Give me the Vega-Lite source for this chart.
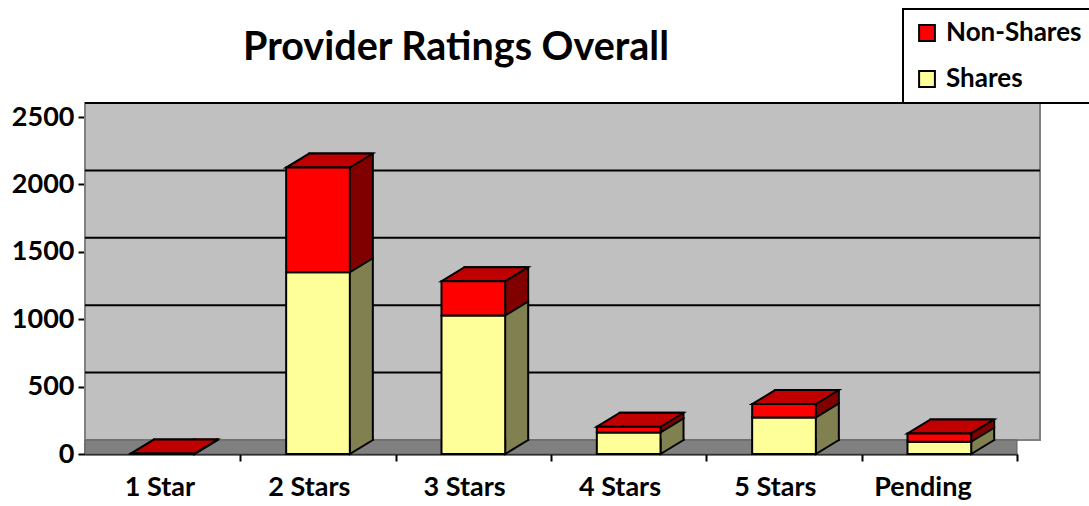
{
  "$schema": "https://vega.github.io/schema/vega-lite/v6.json",
  "width": 932,
  "height": 337,
  "autosize": "none",
  "padding": {"left": 85, "top": 117, "right": 72, "bottom": 52},
  "background": "white",
  "title": {
    "text": "Provider Ratings Overall",
    "font": "Lato",
    "fontSize": 39.5,
    "fontWeight": "bold",
    "color": "black",
    "anchor": "start",
    "frame": "group",
    "dx": 158,
    "offset": 0,
    "dy": 60
  },
  "config": {
    "view": {"stroke": null},
    "legend": {"strokeWidth": 2},
    "axis": {
      "labelFont": "Lato",
      "labelFontSize": 27,
      "labelFontWeight": "bold",
      "labelColor": "black",
      "domainColor": "black",
      "domainWidth": 2,
      "tickColor": "black",
      "tickWidth": 2,
      "tickSize": 7,
      "grid": false,
      "title": null
    }
  },
  "datasets": {
    "ratings": [
      {"rating": "1 Star", "type": "Shares", "count": 0},
      {"rating": "1 Star", "type": "Non-Shares", "count": 3},
      {"rating": "2 Stars", "type": "Shares", "count": 1348},
      {"rating": "2 Stars", "type": "Non-Shares", "count": 777},
      {"rating": "3 Stars", "type": "Shares", "count": 1027},
      {"rating": "3 Stars", "type": "Non-Shares", "count": 255},
      {"rating": "4 Stars", "type": "Shares", "count": 160},
      {"rating": "4 Stars", "type": "Non-Shares", "count": 42},
      {"rating": "5 Stars", "type": "Shares", "count": 271},
      {"rating": "5 Stars", "type": "Non-Shares", "count": 99},
      {"rating": "Pending", "type": "Shares", "count": 91},
      {"rating": "Pending", "type": "Non-Shares", "count": 62}
    ],
    "gridvals": [{"v": 500}, {"v": 1000}, {"v": 1500}, {"v": 2000}, {"v": 2500}],
    "frame": [{"lo": 0, "hi": 2500}]
  },
  "layer": [
    {
      "data": {"name": "frame"},
      "mark": {"type": "rect", "fill": "#C0C0C0"},
      "encoding": {
        "y": {"field": "lo", "type": "quantitative", "scale": {"domain": [0, 2500], "nice": false}},
        "y2": {"field": "hi"}
      }
    },
    {
      "data": {"name": "frame"},
      "mark": {"type": "rect", "fill": "#C0C0C0", "stroke": "#808080", "strokeWidth": 2,
               "xOffset": 23, "x2Offset": 23, "yOffset": -14, "y2Offset": -14},
      "encoding": {
        "y": {"field": "lo", "type": "quantitative", "scale": {"domain": [0, 2500], "nice": false}},
        "y2": {"field": "hi"}
      }
    },
    {
      "data": {"name": "frame"},
      "mark": {"type": "rect", "fill": "#808080", "stroke": "#606060", "strokeWidth": 1,
               "x2Offset": 23, "y2Offset": -14},
      "encoding": {
        "y": {"field": "lo", "type": "quantitative", "scale": {"domain": [0, 2500], "nice": false}},
        "y2": {"field": "lo"}
      }
    },
    {
      "data": {"name": "gridvals"},
      "mark": {"type": "rule", "color": "black", "strokeWidth": 2,
               "xOffset": 23, "x2Offset": 23, "yOffset": -14},
      "encoding": {
        "y": {"field": "v", "type": "quantitative", "scale": {"domain": [0, 2500], "nice": false}}
      }
    },
    {
      "data": {"name": "ratings"},
      "transform": [
        {"stack": "count", "groupby": ["rating"], "sort": [{"field": "type", "order": "descending"}], "as": ["y0", "y1"]}
      ],
      "mark": {"type": "bar", "xOffset": 23, "yOffset": -14, "y2Offset": -14},
      "encoding": {
        "x": {"field": "rating", "type": "nominal", "sort": null,
              "scale": {"paddingInner": 0.59, "paddingOuter": 0.295}},
        "y": {"field": "y1", "type": "quantitative", "scale": {"domain": [0, 2500], "nice": false}},
        "y2": {"field": "y0"},
        "fill": {
          "condition": {"test": "datum.type === 'Shares'", "value": "#808050"},
          "value": "#800000"
        }
      }
    },
    {
      "data": {"name": "ratings"},
      "transform": [
        {"stack": "count", "groupby": ["rating"], "sort": [{"field": "type", "order": "descending"}], "as": ["y0", "y1"]},
        {"filter": "datum.type === 'Non-Shares'"}
      ],
      "mark": {"type": "bar", "fill": "transparent", "stroke": "black", "strokeWidth": 2,
               "xOffset": 23, "yOffset": -14, "y2Offset": -14},
      "encoding": {
        "x": {"field": "rating", "type": "nominal", "sort": null},
        "y": {"field": "y1", "type": "quantitative", "scale": {"domain": [0, 2500], "nice": false}},
        "y2": {"datum": 0}
      }
    },
    {
      "data": {"name": "ratings"},
      "transform": [
        {"stack": "count", "groupby": ["rating"], "sort": [{"field": "type", "order": "descending"}], "as": ["y0", "y1"]}
      ],
      "mark": {"type": "point", "filled": true, "opacity": 1, "size": 10000,
               "shape": "M1.0969,-0.31L1.0969,-0.28L0.6369,0L0.6369,-0.31",
               "stroke": "black", "strokeWidth": 2, "strokeJoin": "miter"},
      "encoding": {
        "x": {"field": "rating", "type": "nominal", "sort": null},
        "y": {"field": "y0", "type": "quantitative", "scale": {"domain": [0, 2500], "nice": false}},
        "fill": {
          "condition": {"test": "datum.type === 'Shares'", "value": "#808050"},
          "value": "#800000"
        }
      }
    },
    {
      "data": {"name": "ratings"},
      "transform": [
        {"stack": "count", "groupby": ["rating"], "sort": [{"field": "type", "order": "descending"}], "as": ["y0", "y1"]},
        {"filter": "datum.type === 'Non-Shares'"}
      ],
      "mark": {"type": "point", "filled": true, "opacity": 1, "size": 10000,
               "shape": "M-0.6369,0L0.6369,0L1.0969,-0.28L-0.1769,-0.28Z",
               "fill": "#C00000", "stroke": "black", "strokeWidth": 2, "strokeJoin": "miter"},
      "encoding": {
        "x": {"field": "rating", "type": "nominal", "sort": null},
        "y": {"field": "y1", "type": "quantitative", "scale": {"domain": [0, 2500], "nice": false}}
      }
    },
    {
      "data": {"name": "ratings"},
      "transform": [
        {"stack": "count", "groupby": ["rating"], "sort": [{"field": "type", "order": "descending"}], "as": ["y0", "y1"]}
      ],
      "mark": {"type": "bar", "stroke": "black", "strokeWidth": 2},
      "encoding": {
        "x": {"field": "rating", "type": "nominal", "sort": null,
              "axis": {"labelAngle": 0, "labelPadding": 26, "bandPosition": 0.5, "tickOffset": 77.67, "labelOffset": -45.83}},
        "y": {
          "field": "y1",
          "type": "quantitative",
          "scale": {"domain": [0, 2500], "nice": false},
          "axis": {"values": [0, 500, 1000, 1500, 2000, 2500], "format": "d", "labelPadding": 4}
        },
        "y2": {"field": "y0"},
        "color": {
          "field": "type",
          "type": "nominal",
          "scale": {"domain": ["Non-Shares", "Shares"], "range": ["#FF0000", "#FFFF99"]},
          "legend": {
            "title": null,
            "orient": "none",
            "legendX": 818,
            "legendY": -108,
            "fillColor": "white",
            "strokeColor": "black",
            "padding": 11,
            "rowPadding": 20,
            "symbolType": "square",
            "symbolSize": 250,
            "symbolStrokeColor": "black",
            "symbolStrokeWidth": 2,
            "symbolOpacity": 1,
            "labelFont": "Lato",
            "labelFontSize": 26,
            "labelFontWeight": "bold",
            "labelColor": "black",
            "labelOffset": 6
          }
        }
      }
    }
  ]
}
